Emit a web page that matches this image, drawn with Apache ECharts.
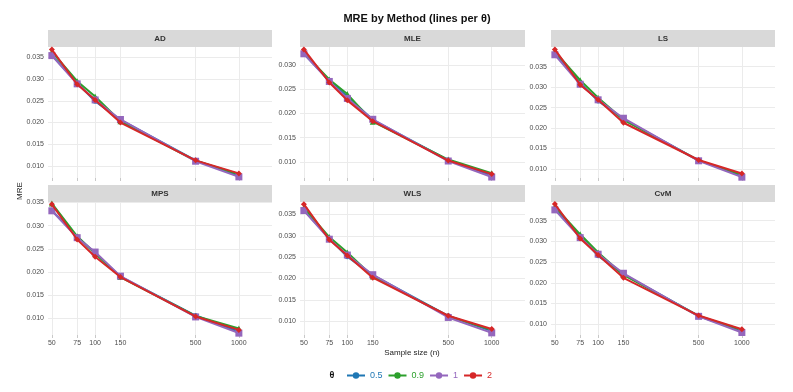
<!DOCTYPE html>
<html>
<head>
<meta charset="utf-8">
<script src="https://cdn.jsdelivr.net/npm/echarts@6/dist/echarts.min.js"></script>
<style>
  html, body { margin: 0; padding: 0; background: #fff; }
  #chart { width: 793px; height: 392px; }
</style>
</head>
<body>
<div id="chart"></div>
<script>
// sample sizes (x) and theta levels
const sampleSizes = [50, 75, 100, 150, 500, 1000]
const thetas = ['0.5', '0.9', '1', '2']
const yTicks = [0.010, 0.015, 0.020, 0.025, 0.030, 0.035]

// MRE per method, one row per theta (0.5, 0.9, 1, 2)
const mreAD = [
  [0.0355, 0.0291, 0.0249, 0.0206, 0.0113, 0.0078],
  [0.0363, 0.0295, 0.0260, 0.0203, 0.0112, 0.0081],
  [0.0354, 0.0289, 0.0252, 0.0207, 0.0111, 0.0075],
  [0.0368, 0.0288, 0.0252, 0.0200, 0.0113, 0.0083]
]
const mreMLE = [
  [0.0323, 0.0268, 0.0235, 0.0187, 0.0104, 0.0072],
  [0.0325, 0.0270, 0.0240, 0.0183, 0.0105, 0.0077],
  [0.0323, 0.0266, 0.0231, 0.0188, 0.0102, 0.0069],
  [0.0332, 0.0264, 0.0227, 0.0184, 0.0103, 0.0075]
]
const mreLS = [
  [0.0381, 0.0311, 0.0266, 0.0222, 0.0121, 0.0083],
  [0.0387, 0.0317, 0.0274, 0.0220, 0.0121, 0.0086],
  [0.0379, 0.0307, 0.0269, 0.0224, 0.0120, 0.0080],
  [0.0392, 0.0306, 0.0269, 0.0213, 0.0122, 0.0089]
]
const mreMPS = [
  [0.0333, 0.0276, 0.0241, 0.0190, 0.0106, 0.0071],
  [0.0348, 0.0277, 0.0240, 0.0189, 0.0105, 0.0078],
  [0.0332, 0.0274, 0.0243, 0.0191, 0.0103, 0.0068],
  [0.0346, 0.0270, 0.0233, 0.0189, 0.0104, 0.0075]
]
const mreWLS = [
  [0.0360, 0.0294, 0.0251, 0.0208, 0.0113, 0.0077],
  [0.0366, 0.0297, 0.0261, 0.0205, 0.0112, 0.0080],
  [0.0359, 0.0292, 0.0255, 0.0209, 0.0109, 0.0073],
  [0.0374, 0.0291, 0.0254, 0.0202, 0.0113, 0.0082]
]
const mreCvM = [
  [0.0378, 0.0312, 0.0265, 0.0221, 0.0120, 0.0083],
  [0.0384, 0.0317, 0.0273, 0.0219, 0.0120, 0.0086],
  [0.0376, 0.0309, 0.0269, 0.0223, 0.0119, 0.0080],
  [0.0390, 0.0307, 0.0267, 0.0212, 0.0121, 0.0088]
]

const methods = ['AD', 'MLE', 'LS', 'MPS', 'WLS', 'CvM']
const methodData = [mreAD, mreMLE, mreLS, mreMPS, mreWLS, mreCvM]

// panel layout / scale limits
const yLimits = [
  [0.00724, 0.03738], [0.0067, 0.0337], [0.0078, 0.0398],
  [0.0064, 0.0351], [0.0068, 0.0379], [0.0074, 0.0395]
]
const colLeft = [48, 300, 551]
const colWidth = [224, 225, 224]
const rowTop = [47, 202]
const rowHeight = [131, 133]
const stripH = 17

const colors = ['#1f77b4', '#2ca02c', '#9467bd', '#d62728']
const symbols = ['circle', 'triangle', 'rect', 'diamond']
const symbolSizes = [5, 6, 7, 6]
// legend key: line with a dot in the middle
const keyIcon = 'path://M0,4L18,4L18,6L0,6Z M9,1.8A3.2,3.2 0 1 1 8.99,1.8Z'

const chart = echarts.init(document.getElementById('chart'))

const grids = [], xAxes = [], yAxes = [], series = [], graphics = []
methods.forEach((m, i) => {
  const r = Math.floor(i / 3), c = i % 3
  grids.push({left: colLeft[c], top: rowTop[r], width: colWidth[c], height: rowHeight[r]})
  xAxes.push({
    type: 'log', gridIndex: i, min: 47, max: 1700,
    axisLine: {show: false},
    axisTick: {show: true, customValues: sampleSizes, length: 3, lineStyle: {color: '#c8c8c8'}},
    axisLabel: {show: r === 1, customValues: sampleSizes, fontSize: 7, color: '#4d4d4d', margin: 5,
      fontFamily: 'Liberation Sans', formatter: v => String(Math.round(v))},
    splitLine: {show: true, lineStyle: {color: '#ebebeb', width: 1}},
    minorSplitLine: {show: false}
  })
  const lim = yLimits[i]
  const ticks = yTicks.filter(v => v >= lim[0] && v <= lim[1])
  yAxes.push({
    type: 'value', gridIndex: i, min: lim[0], max: lim[1],
    axisLine: {show: false},
    axisTick: {show: false, customValues: ticks},
    axisLabel: {customValues: ticks, fontSize: 7, color: '#4d4d4d', margin: 4,
      fontFamily: 'Liberation Sans', formatter: v => v.toFixed(3)},
    splitLine: {show: true, lineStyle: {color: '#ebebeb', width: 1}}
  })
  thetas.forEach((t, k) => {
    series.push({
      name: t, type: 'line', xAxisIndex: i, yAxisIndex: i,
      data: sampleSizes.map((n, j) => [n, methodData[i][k][j]]),
      symbol: symbols[k], symbolSize: symbolSizes[k],
      itemStyle: {color: colors[k]},
      lineStyle: {color: colors[k], width: 2},
      z: 2 + k, animation: false
    })
  })
  // facet strip
  graphics.push({
    type: 'rect', left: colLeft[c], top: rowTop[r] - stripH,
    shape: {width: colWidth[c], height: stripH},
    style: {fill: '#d9d9d9'}
  })
  graphics.push({
    type: 'text', x: colLeft[c] + colWidth[c] / 2, y: rowTop[r] - stripH / 2,
    style: {text: m, fill: '#333', font: 'bold 8px Liberation Sans', align: 'center', verticalAlign: 'middle'}
  })
})

// axis titles and legend title
graphics.push({
  type: 'text', x: 412, y: 353,
  style: {text: 'Sample size (n)', fill: '#222', font: '8px Liberation Sans', align: 'center', verticalAlign: 'middle'}
})
graphics.push({
  type: 'text', x: 20, y: 191, rotation: Math.PI / 2,
  style: {text: 'MRE', fill: '#222', font: '8px Liberation Sans', align: 'center', verticalAlign: 'middle'}
})
graphics.push({
  type: 'text', x: 332, y: 376,
  style: {text: 'θ', fill: '#111', font: 'bold 9px Liberation Sans', align: 'center', verticalAlign: 'middle'}
})

chart.setOption({
  animation: false,
  title: {
    text: 'MRE by Method (lines per θ)', left: 412, top: 8, textAlign: 'center',
    textStyle: {fontSize: 11, fontWeight: 'bold', color: '#111', fontFamily: 'Liberation Sans'}
  },
  legend: {
    left: 342, top: 366, itemWidth: 18, itemHeight: 10, itemGap: 6,
    data: thetas.map((t, k) => ({name: t, icon: keyIcon, textStyle: {color: colors[k]}})),
    textStyle: {fontSize: 9, fontFamily: 'Liberation Sans'}
  },
  grid: grids,
  xAxis: xAxes,
  yAxis: yAxes,
  series: series,
  graphic: graphics
})
</script>
</body>
</html>
